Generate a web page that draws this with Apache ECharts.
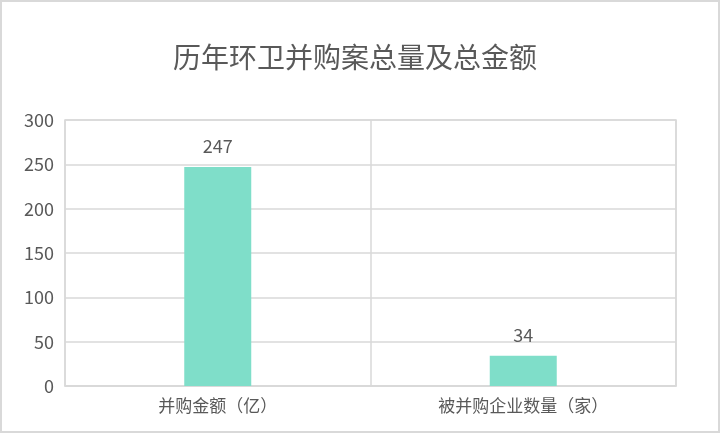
<!DOCTYPE html>
<html>
<head>
<meta charset="utf-8">
<script src="https://cdn.jsdelivr.net/npm/echarts@6/dist/echarts.min.js"></script>
<style>
  html, body { margin: 0; padding: 0; background: #fff; }
  #main { width: 722px; height: 447px; }
</style>
</head>
<body>
<div id="main"></div>
<script>
var categories = ['并购金额（亿）', '被并购企业数量（家）'];
var values = [247, 34];
var yTicks = [0, 50, 100, 150, 200, 250, 300];

var chart = echarts.init(document.getElementById('main'));
var option = {
    backgroundColor: '#fff',
    title: {
        text: '历年环卫并购案总量及总金额',
        left: 168,
        top: 38,
        textStyle: {
            fontFamily: 'Noto Sans CJK SC',
            fontSize: 28,
            fontWeight: 'normal',
            color: '#595959'
        }
    },
    graphic: [{
        type: 'rect',
        shape: { x: 1, y: 1, width: 718, height: 431 },
        style: { fill: 'none', stroke: '#d9d9d9', lineWidth: 2 },
        silent: true
    }],
    grid: {
        left: 65,
        right: 46,
        top: 120,
        bottom: 61,
        show: true,
        borderColor: '#d9d9d9',
        borderWidth: 1.5
    },
    xAxis: {
        type: 'category',
        data: categories,
        axisLine: { lineStyle: { color: '#d9d9d9', width: 1.5 } },
        axisTick: { show: false },
        splitLine: { show: true, lineStyle: { color: '#d9d9d9', width: 1.5 } },
        axisLabel: {
            fontFamily: 'Noto Sans CJK SC',
            fontSize: 17,
            color: '#595959',
            margin: 11
        }
    },
    yAxis: {
        type: 'value',
        min: yTicks[0],
        max: yTicks[yTicks.length - 1],
        interval: 50,
        axisLine: { show: false },
        axisTick: { show: false },
        splitLine: { lineStyle: { color: '#d9d9d9', width: 1.5 } },
        axisLabel: {
            fontFamily: 'Noto Sans CJK SC',
            fontSize: 18,
            color: '#595959',
            margin: 11
        }
    },
    series: [{
        type: 'bar',
        data: values,
        barWidth: 67,
        itemStyle: { color: '#7fdec9' },
        label: {
            show: true,
            position: 'top',
            distance: 12,
            fontFamily: 'Noto Sans CJK SC',
            fontSize: 18,
            color: '#595959'
        }
    }]
};
chart.setOption(option);
</script>
</body>
</html>
